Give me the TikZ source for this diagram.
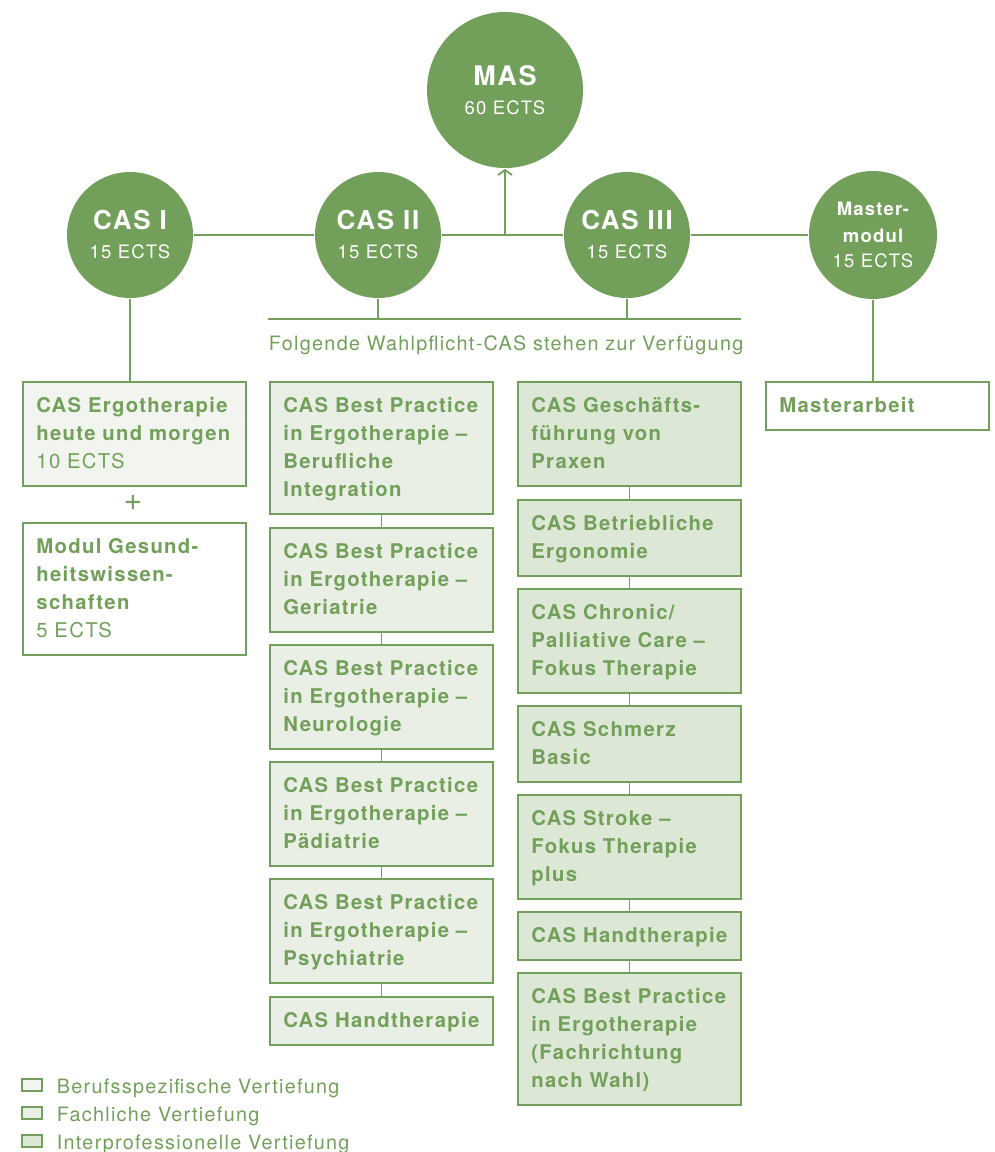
\documentclass[tikz,border=0pt]{standalone}
\usepackage{fontspec}
\setmainfont{TeX Gyre Heros}[LetterSpace=6.5]
\usetikzlibrary{arrows.meta}

\definecolor{fhgreen}{HTML}{72A05A}
\definecolor{fillA}{HTML}{F2F5EF}
\definecolor{fillB}{HTML}{E9EFE4}
\definecolor{fillC}{HTML}{DDE7D5}

\newcommand{\topstrut}{\rule{0pt}{21pt}}
\newcommand{\botstrut}{\rule[-7pt]{0pt}{7pt}}
\newcommand{\boxfont}{\fontsize{20.3}{28}\selectfont\bfseries}

\begin{document}
\begin{tikzpicture}[x=1pt, y=-1pt, line width=1.8pt, color=fhgreen,
  course/.style={circle, fill=fhgreen, text=white, inner sep=0pt,
    minimum size=126pt, align=center, font=\fontsize{18.5}{22}\selectfont},
  cbox/.style={draw=fhgreen, rectangle, anchor=north west, text width=196pt,
    inner xsep=13.5pt, inner ysep=10pt, align=left, font=\boxfont,
    execute at begin node=\topstrut, execute at end node=\botstrut},
  legbox/.style={draw=fhgreen, rectangle, minimum width=20pt, minimum height=12pt,
    inner sep=0pt, line width=1.4pt},
  legtext/.style={anchor=base west, inner sep=0pt, font=\fontsize{19.8}{22}\selectfont}
]
\useasboundingbox (0,0) rectangle (995,1152);

% Circles
\node [course, minimum size=156pt] (mas) at (505,90)
  {{\fontsize{27}{30}\selectfont\bfseries MAS}\\[7pt]60 ECTS};
\node [course] (cas1) at (130,235)
  {{\fontsize{26}{30}\selectfont\bfseries CAS I}\\[7pt]15 ECTS};
\node [course] (cas2) at (378,235)
  {{\fontsize{26}{30}\selectfont\bfseries CAS II}\\[7pt]15 ECTS};
\node [course] (cas3) at (627,235)
  {{\fontsize{26}{30}\selectfont\bfseries CAS III}\\[7pt]15 ECTS};
\node [course, minimum size=128pt] (mm) at (873,235)
  {\bfseries Master-\\[5pt]\bfseries modul\\[3pt]15 ECTS};

% Top connectors
\coordinate (junc) at (505,235);
\draw (cas1) -- (cas2) -- (cas3) -- (mm);
\draw [-{Straight Barb[length=5pt, width=14pt]}] (junc) -- (mas);

% Elective line
\coordinate (wl) at (268,319);
\coordinate (wr) at (741,319);
\draw (wl) -- (wr);
\draw (cas2) -- (cas2 |- wl);
\draw (cas3) -- (cas3 |- wl);
\node [legtext] (wtext) at (268,350) {Folgende Wahlpflicht-CAS stehen zur Verfügung};

% Left column
\node [cbox, fill=fillA] (ergo) at (22,381)
  {CAS Ergotherapie\\heute und morgen\\{\mdseries 10 ECTS}};
\node [font=\fontsize{32}{32}\selectfont, inner sep=0pt] (plus) at (133,503) {+};
\node [cbox, fill=white] (gesu) at (22,522)
  {Modul Gesund-\\heitswissen-\\schaften\\{\mdseries 5 ECTS}};
\draw (cas1) -- (cas1 |- ergo.north);

% Middle column
\node [cbox, fill=fillB] (m1) at (269,381)
  {CAS Best Practice\\in Ergotherapie –\\Berufliche\\Integration};
\node [cbox, fill=fillB] (m2) at (269,527)
  {CAS Best Practice\\in Ergotherapie –\\Geriatrie};
\node [cbox, fill=fillB] (m3) at (269,644)
  {CAS Best Practice\\in Ergotherapie –\\Neurologie};
\node [cbox, fill=fillB] (m4) at (269,761)
  {CAS Best Practice\\in Ergotherapie –\\Pädiatrie};
\node [cbox, fill=fillB] (m5) at (269,878)
  {CAS Best Practice\\in Ergotherapie –\\Psychiatrie};
\node [cbox, fill=fillB] (m6) at (269,996)
  {CAS Handtherapie};
\draw (m1) -- (m2);
\draw (m2) -- (m3);
\draw (m3) -- (m4);
\draw (m4) -- (m5);
\draw (m5) -- (m6);

% Right column
\node [cbox, fill=fillC] (r1) at (517,381)
  {CAS Geschäfts-\\führung von\\Praxen};
\node [cbox, fill=fillC] (r2) at (517,499)
  {CAS Betriebliche\\Ergonomie};
\node [cbox, fill=fillC] (r3) at (517,588)
  {CAS Chronic/\\Palliative Care –\\Fokus Therapie};
\node [cbox, fill=fillC] (r4) at (517,705)
  {CAS Schmerz\\Basic};
\node [cbox, fill=fillC] (r5) at (517,794)
  {CAS Stroke –\\Fokus Therapie\\plus};
\node [cbox, fill=fillC] (r6) at (517,911)
  {CAS Handtherapie};
\node [cbox, fill=fillC] (r7) at (517,972)
  {CAS Best Practice\\in Ergotherapie\\(Fachrichtung\\nach Wahl)};
\draw (r1) -- (r2);
\draw (r2) -- (r3);
\draw (r3) -- (r4);
\draw (r4) -- (r5);
\draw (r5) -- (r6);
\draw (r6) -- (r7);

% Master thesis
\node [cbox, fill=white] (ma) at (765,381) {Masterarbeit};
\draw (mm) -- (mm |- ma.north);

% Legend
\node [legbox, fill=fillA] (lg1) at (32,1085) {};
\node [legbox, fill=fillB] (lg2) at (32,1113) {};
\node [legbox, fill=fillC] (lg3) at (32,1141) {};
\node [legtext] (lt1) at (56,1093) {Berufsspezifische Vertiefung};
\node [legtext] (lt2) at (56,1121) {Fachliche Vertiefung};
\node [legtext] (lt3) at (56,1149) {Interprofessionelle Vertiefung};

\end{tikzpicture}
\end{document}
